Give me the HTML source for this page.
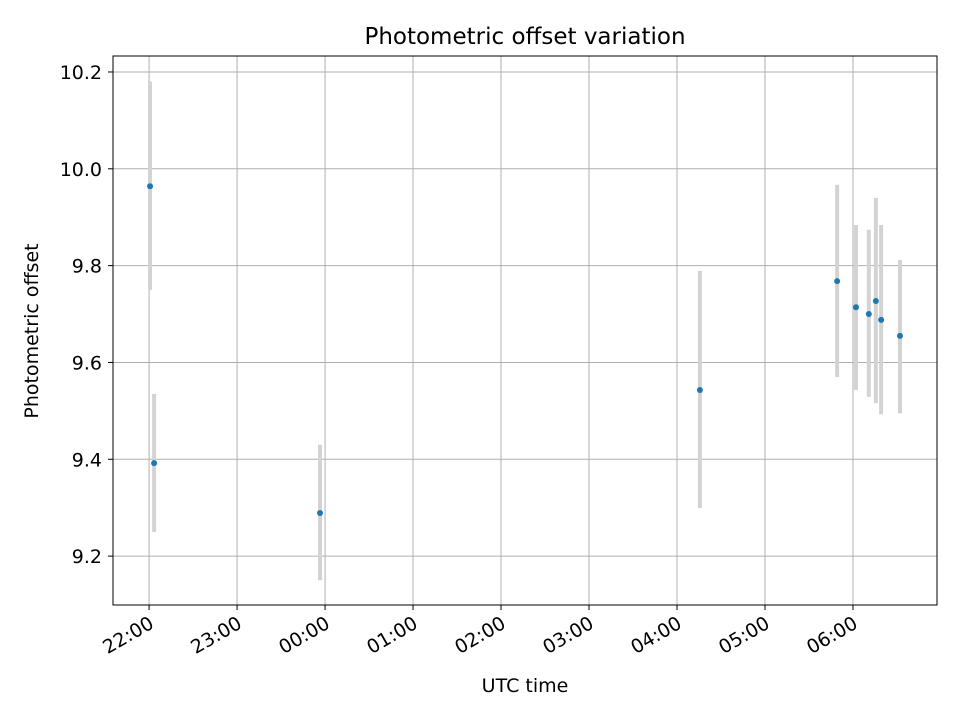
<!DOCTYPE html>
<html><head><meta charset="utf-8"><style>
body{margin:0;background:#fff;font-family:"DejaVu Sans","Liberation Sans",sans-serif}
text{font-family:"DejaVu Sans","Liberation Sans",sans-serif}
</style></head><body>
<svg id="chart" width="960" height="720" xmlns="http://www.w3.org/2000/svg">
<rect width="960" height="720" fill="#fff"/>
<g id="grid"></g><g id="errs"></g><g id="pts"></g><g id="axes"></g>
<text x="525" y="44" font-size="23" text-anchor="middle">Photometric offset variation</text>
<text x="525" y="692" font-size="19" text-anchor="middle">UTC time</text>
<text transform="translate(38,331) rotate(-90)" font-size="19" text-anchor="middle">Photometric offset</text>
</svg>
<script>
// hours after 22:00 UTC
const times=[0.011,0.057,1.943,6.26,7.82,8.034,8.18,8.26,8.32,8.534];
const values=[9.964,9.392,9.289,9.543,9.768,9.714,9.70,9.727,9.688,9.655];
const errLow=[9.75,9.25,9.15,9.299,9.57,9.543,9.529,9.516,9.493,9.495];
const errHigh=[10.18,9.535,9.43,9.789,9.967,9.884,9.874,9.94,9.884,9.812];
const xTickLabels=["22:00","23:00","00:00","01:00","02:00","03:00","04:00","05:00","06:00"];
const yTicks=[9.2,9.4,9.6,9.8,10.0,10.2];
const L=113,R=937,T=56,B=605;
const x0=-0.41,x1=8.955,y0=9.099,y1=10.233;
const sx=v=>L+(v-x0)/(x1-x0)*(R-L);
const sy=v=>B-(v-y0)/(y1-y0)*(B-T);
const NS="http://www.w3.org/2000/svg";
function mk(p,tag,a){const e=document.createElementNS(NS,tag);for(const k in a)e.setAttribute(k,a[k]);p.appendChild(e);return e;}
const grid=document.getElementById('grid'),axes=document.getElementById('axes');
xTickLabels.forEach((lab,i)=>{const x=sx(i);
 const g=mk(grid,'line',{x1:x,x2:x,y1:T,y2:B,stroke:'#b0b0b0','stroke-width':1});
 
 mk(axes,'line',{x1:x,x2:x,y1:B,y2:B+5,stroke:'#000'});
 const t=mk(axes,'text',{x:0,y:0,'font-size':19,'text-anchor':'end',transform:`translate(${x+6},${B+22}) rotate(-30)`});
 t.textContent=lab;
});
yTicks.forEach(v=>{const y=sy(v);
 const g=mk(grid,'line',{x1:L,x2:R,y1:y,y2:y,stroke:'#b0b0b0','stroke-width':1});
 
 mk(axes,'line',{x1:L-5,x2:L,y1:y,y2:y,stroke:'#000'});
 const t=mk(axes,'text',{x:L-11,y:y+7,'font-size':19,'text-anchor':'end'});
 t.textContent=v.toFixed(1);
});
const fr=mk(axes,'rect',{x:L,y:T,width:R-L,height:B-T,fill:'none',stroke:'#000','stroke-width':1});

const errs=document.getElementById('errs'),pts=document.getElementById('pts');
times.forEach((t,i)=>{const x=sx(t);
 const e=mk(errs,'line',{x1:x,x2:x,y1:sy(errLow[i]),y2:sy(errHigh[i]),stroke:'#d3d3d3','stroke-width':4});
 
 const c=mk(pts,'circle',{cx:x,cy:sy(values[i]),r:3,fill:'#1f77b4'});
 
});
</script>
</body></html>
